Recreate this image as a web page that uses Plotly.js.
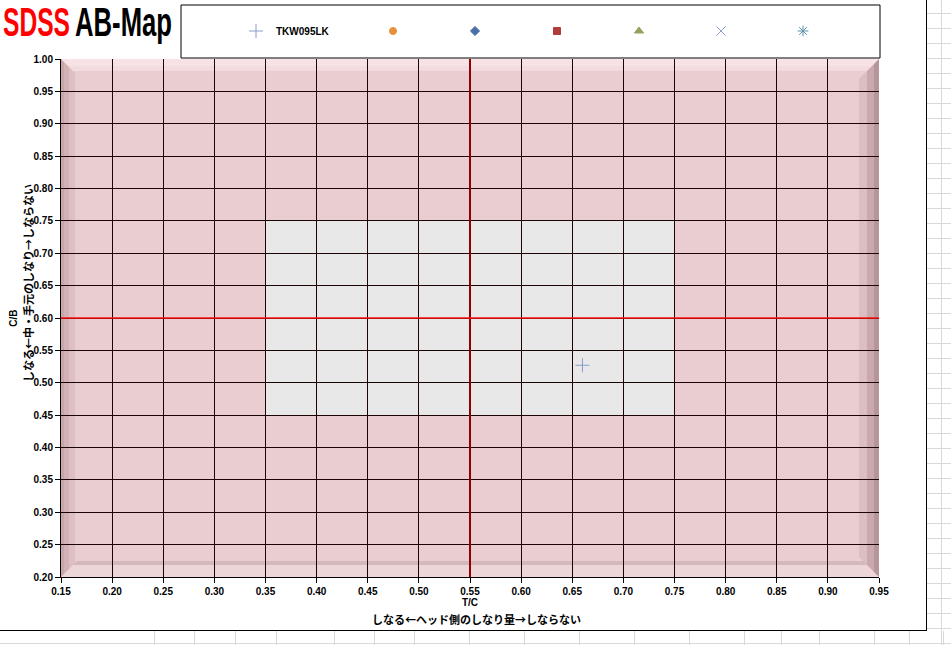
<!DOCTYPE html>
<html>
<head>
<meta charset="utf-8">
<script src="https://cdn.plot.ly/plotly-3.0.1.min.js"></script>
<style>
  html, body { margin: 0; padding: 0; }
  body {
    width: 951px; height: 645px; overflow: hidden; position: relative;
    background-color: #fff;
    /* spreadsheet cells behind the chart */
    background-image: linear-gradient(#d9d9d9 1px, transparent 1px);
    background-size: 100% 15px;
    background-position: 0 13px;
  }
  .vline { position: absolute; width: 1px; background: #d9d9d9; }
  #chart {
    position: absolute; left: 0; top: 0; width: 926px; height: 630px;
    background: #fff; border-right: 1px solid #000; border-bottom: 1px solid #000;
  }
</style>
</head>
<body>
<div id="chart"></div>
<script>
// series (one measured point, six empty series shown only in the legend)
const seriesNames   = ['TKW095LK', ' ', ' ', ' ', ' ', ' ', ' '];
const seriesX       = [[0.66], [null], [null], [null], [null], [null], [null]];
const seriesY       = [[0.527], [null], [null], [null], [null], [null], [null]];
const seriesSymbols = ['cross-thin-open', 'circle', 'diamond', 'square', 'triangle-up', 'x-thin-open', 'asterisk-open'];
const seriesColors  = ['#8a9cc8', '#e8903c', '#4a6ea8', '#b03c3c', '#98a060', '#8a9cc8', '#5f92b0'];
const seriesSizes   = [10, 7, 7, 7, 8, 9, 9];

// axis ticks
const xTickVals = [0.15, 0.20, 0.25, 0.30, 0.35, 0.40, 0.45, 0.50, 0.55, 0.60, 0.65, 0.70, 0.75, 0.80, 0.85, 0.90, 0.95];
const yTickVals = [0.20, 0.25, 0.30, 0.35, 0.40, 0.45, 0.50, 0.55, 0.60, 0.65, 0.70, 0.75, 0.80, 0.85, 0.90, 0.95, 1.00];

// target zone and reference lines
const zoneX = [0.35, 0.75];
const zoneY = [0.45, 0.75];
const refX = 0.55;
const refY = 0.60;

// spreadsheet column edges (decoration only)
const bottomCols = [154, 194, 235, 276, 334, 374, 414, 469, 524, 579, 634, 689, 744, 781, 819, 874, 909, 943];
bottomCols.forEach(x => {
    const d = document.createElement('div');
    d.className = 'vline';
    d.style.left = x + 'px'; d.style.top = '631px'; d.style.height = '14px';
    document.body.appendChild(d);
});
const rv = document.createElement('div');
rv.className = 'vline';
rv.style.left = '941px'; rv.style.top = '0px'; rv.style.height = '645px';
document.body.appendChild(rv);

const W = 818, H = 518;   // plot area in px

// bevelled frame of the plot area, built from layered bands
function band(side, d, color) {
    const dx = d / W, dy = d / H;
    let p;
    if (side === 'top')    p = [[0, 1], [1, 1], [1 - dx, 1 - dy], [dx, 1 - dy]];
    if (side === 'bottom') p = [[0, 0], [1, 0], [1 - dx, dy], [dx, dy]];
    if (side === 'left')   p = [[0, 0], [0, 1], [dx, 1 - dy], [dx, dy]];
    if (side === 'right')  p = [[1, 0], [1, 1], [1 - dx, 1 - dy], [1 - dx, dy]];
    return {
        type: 'path', xref: 'paper', yref: 'paper', layer: 'below',
        path: 'M' + p.map(q => q[0] + ',' + q[1]).join('L') + 'Z',
        fillcolor: color, line: { width: 0 }
    };
}

const shapes = [
    // grey target zone
    {
        type: 'rect', xref: 'x', yref: 'y', layer: 'below',
        x0: zoneX[0], x1: zoneX[1], y0: zoneY[0], y1: zoneY[1],
        fillcolor: '#e8e8e8', line: { width: 0 }
    },
    band('top', 12, 'rgba(255,240,242,0.45)'),
    band('top', 7, 'rgba(255,240,242,0.35)'),
    band('left', 14, 'rgba(150,100,108,0.12)'),
    band('left', 8, 'rgba(150,100,108,0.15)'),
    band('left', 3, 'rgba(150,100,108,0.15)'),
    band('right', 20, 'rgba(120,80,88,0.12)'),
    band('right', 12, 'rgba(120,80,88,0.18)'),
    band('right', 5, 'rgba(120,80,88,0.22)'),
    band('bottom', 16, 'rgba(140,110,115,0.22)'),
    band('bottom', 12, 'rgba(255,238,240,0.55)'),
    // reference lines
    {
        type: 'line', xref: 'x', yref: 'paper', layer: 'above',
        x0: refX, x1: refX, y0: 0, y1: 1,
        line: { color: '#900000', width: 2 }
    },
    {
        type: 'line', xref: 'paper', yref: 'y', layer: 'above',
        x0: 0, x1: 1, y0: refY, y1: refY,
        line: { color: '#ff1010', width: 1.3 }
    },
    // legend frame
    {
        type: 'rect', xref: 'paper', yref: 'paper', layer: 'below',
        x0: (181 - 61) / W, x1: (880 - 61) / W,
        y0: 1 + (59 - 58) / H, y1: 1 + (59 - 5) / H,
        fillcolor: '#fff', line: { color: '#000', width: 1 }
    }
];

const traces = seriesNames.map((name, i) => ({
    type: 'scatter',
    mode: 'markers',
    name: name,
    x: seriesX[i],
    y: seriesY[i],
    legend: i === 0 ? 'legend' : 'legend2',
    marker: {
        symbol: seriesSymbols[i],
        size: seriesSizes[i],
        color: seriesColors[i],
        line: { color: seriesColors[i], width: 1 }
    },
    hovertemplate: 'T/C %{x:.2f}<br>C/B %{y:.2f}<extra>' + name + '</extra>'
}));

const tickFont = { family: 'Liberation Sans, Arial, sans-serif', size: 10, weight: 'bold', color: '#000' };
const jpFont = { family: 'Noto Sans CJK JP, sans-serif', size: 11, weight: 'bold', color: '#000' };
const headFont = { family: 'Liberation Sans, Arial, sans-serif', size: 40, weight: 'bold' };

const layout = {
    width: 926,
    height: 630,
    margin: { l: 61, r: 47, t: 59, b: 53 },
    paper_bgcolor: '#fff',
    plot_bgcolor: '#e9cdd0',
    showlegend: true,
    xaxis: {
        range: [0.15, 0.95],
        tickmode: 'array',
        tickvals: xTickVals,
        ticktext: xTickVals.map(v => v.toFixed(2)),
        tickfont: tickFont,
        ticks: 'outside', ticklen: 5, tickcolor: '#000',
        showline: true, linecolor: '#000', linewidth: 1,
        showgrid: true, gridcolor: '#1a0404', gridwidth: 1,
        zeroline: false, fixedrange: true,
        title: { text: 'T/C', font: tickFont, standoff: 0 },
        automargin: true
    },
    yaxis: {
        range: [0.20, 1.00],
        tickmode: 'array',
        tickvals: yTickVals,
        ticktext: yTickVals.map(v => v.toFixed(2)),
        tickfont: tickFont,
        ticks: 'outside', ticklen: 5, tickcolor: '#000',
        showline: true, linecolor: '#000', linewidth: 1,
        showgrid: true, gridcolor: '#1a0404', gridwidth: 1,
        zeroline: false, fixedrange: true,
        title: { text: 'C/B', font: tickFont, standoff: 14 },
        automargin: true
    },
    legend: {
        orientation: 'h',
        x: (236 - 61) / W, xanchor: 'left',
        y: 1 + (59 - 31) / H, yanchor: 'middle',
        bgcolor: 'rgba(0,0,0,0)', borderwidth: 0,
        font: { family: 'Liberation Sans, Arial, sans-serif', size: 10, weight: 'bold', color: '#000' },
        itemwidth: 30
    },
    legend2: {
        orientation: 'h',
        x: (373 - 61) / W, xanchor: 'left',
        y: 1 + (59 - 31) / H, yanchor: 'middle',
        bgcolor: 'rgba(0,0,0,0)', borderwidth: 0,
        entrywidth: 37, entrywidthmode: 'pixels',
        font: { family: 'Liberation Sans, Arial, sans-serif', size: 10, color: '#000' },
        itemwidth: 30
    },
    shapes: shapes,
    annotations: [
        {
            xref: 'paper', yref: 'paper',
            x: (3 - 61) / W, xanchor: 'left',
            y: 1 + (59 - 22) / H, yanchor: 'middle',
            text: 'SDSS',
            showarrow: false,
            font: Object.assign({ color: '#ff0000' }, headFont)
        },
        {
            xref: 'paper', yref: 'paper',
            x: (75 - 61) / W, xanchor: 'left',
            y: 1 + (59 - 22) / H, yanchor: 'middle',
            text: 'AB-Map',
            showarrow: false,
            font: Object.assign({ color: '#000' }, headFont)
        },
        {
            xref: 'paper', yref: 'paper',
            x: (28 - 61) / W, xanchor: 'center',
            y: 1 - (283 - 59) / H, yanchor: 'middle',
            textangle: -90,
            text: 'しなる←中・手元のしなり→しならない',
            showarrow: false,
            font: jpFont
        },
        {
            xref: 'paper', yref: 'paper',
            x: (476 - 61) / W, xanchor: 'center',
            y: -(619 - 577) / H, yanchor: 'middle',
            text: 'しなる←ヘッド側のしなり量→しならない',
            showarrow: false,
            font: jpFont
        }
    ]
};

// squeeze a heading word horizontally into its narrow width in the original
function squeeze(gd, idx, left, width) {
    const ann = gd.querySelector('.annotation[data-index="' + idx + '"]');
    if (!ann) return;
    const t = ann.querySelector('text.annotation-text');
    const bb = t.getBBox();
    const pm = t.parentNode.getCTM();
    const sx = width / bb.width;
    const tx = left - (pm ? pm.e : 0) - sx * bb.x;
    t.setAttribute('transform', 'matrix(' + sx + ',0,0,1,' + tx + ',0)');
    // shrink the annotation's background box to match
    const nb = t.getBoundingClientRect();
    ann.querySelectorAll('rect').forEach(r => {
        const m = r.getCTM();
        r.setAttribute('x', nb.left - (m ? m.e : 0));
        r.setAttribute('width', nb.width);
    });
}

Plotly.newPlot('chart', traces, layout, { displayModeBar: false, staticPlot: true }).then(gd => {
    squeeze(gd, 0, 3, 67);
    squeeze(gd, 1, 75, 97);
});
</script>
</body>
</html>
